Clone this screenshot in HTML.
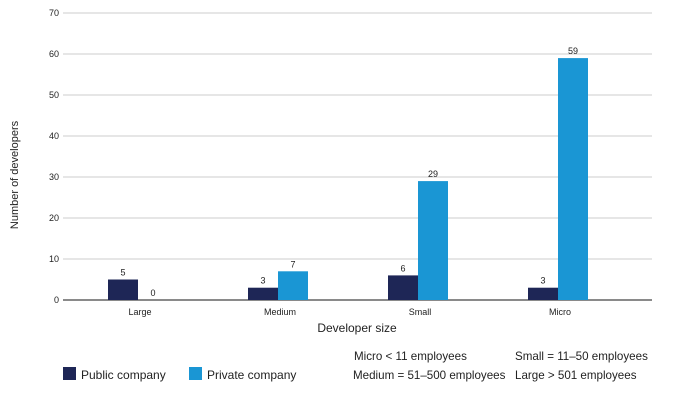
<!DOCTYPE html>
<html><head><meta charset="utf-8"><style>
body{margin:0;background:#fff;font-family:"Liberation Sans",sans-serif;}
svg{display:block}
text{fill:#222}
</style></head><body>
<svg width="679" height="415">
<g id="grid"></g>
<g id="bars"></g>
<text x="18" y="175" font-size="11" text-anchor="middle" transform="rotate(-90 18 175)">Number of developers</text>
<text x="357" y="332" font-size="12" text-anchor="middle">Developer size</text>
<rect x="63" y="367" width="13" height="13" fill="#1e2656"/>
<text x="81" y="379" font-size="12">Public company</text>
<rect x="189" y="367" width="13" height="13" fill="#1a96d4"/>
<text x="207" y="379" font-size="12">Private company</text>
<text x="354" y="360" font-size="11.6">Micro &lt; 11 employees</text>
<text x="515" y="360" font-size="11.6">Small = 11–50 employees</text>
<text x="353" y="379" font-size="11.6">Medium = 51–500 employees</text>
<text x="515" y="379" font-size="11.6">Large &gt; 501 employees</text>
</svg>
<script>
const categories=["Large","Medium","Small","Micro"];
const publicVals=[5,3,6,3];
const privateVals=[0,7,29,59];
const yTicks=[0,10,20,30,40,50,60,70];
const NS="http://www.w3.org/2000/svg";
function y(v){return 300-v*4.1;}
function xc(i){return 138+i*140;}
function mk(tag,attrs,parent,txt){const e=document.createElementNS(NS,tag);for(const k in attrs)e.setAttribute(k,attrs[k]);if(txt!==undefined)e.textContent=txt;parent.appendChild(e);return e;}
const grid=document.getElementById('grid'),bars=document.getElementById('bars');
yTicks.forEach(t=>{
 const l=mk('line',{x1:63,x2:652,y1:y(t),y2:y(t),stroke:t===0?'#444':'#bbb','stroke-width':t===0?1.2:0.8},grid);
 
 
 const tx=mk('text',{x:59,y:y(t)+3,'font-size':9,'text-anchor':'end'},grid,t);
 
 
});
categories.forEach((c,i)=>{
 const cx=xc(i);
 const a=mk('rect',{x:cx-30,y:y(publicVals[i]),width:30,height:publicVals[i]*4.1,fill:'#1e2656'},bars);
 
 
 const b=mk('rect',{x:cx,y:y(privateVals[i]),width:30,height:privateVals[i]*4.1,fill:'#1a96d4'},bars);
 
 
 const la=mk('text',{x:cx-15,y:y(publicVals[i])-4,'font-size':9,'text-anchor':'middle'},bars,publicVals[i]);
 
 
 const lb=mk('text',{x:cx+15,y:y(privateVals[i])-4,'font-size':9,'text-anchor':'middle'},bars,privateVals[i]);
 
 
 const cl=mk('text',{x:cx+2,y:315,'font-size':9,'text-anchor':'middle'},bars,c);
 
 
});
</script>
</body></html>
